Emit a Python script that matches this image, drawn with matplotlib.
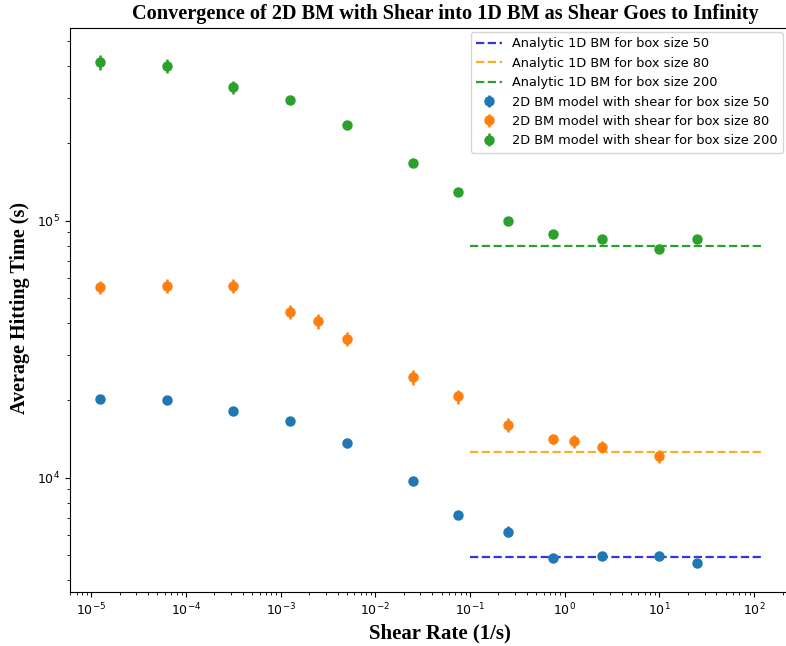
import matplotlib
matplotlib.use("Agg")
import matplotlib.pyplot as plt
import numpy as np

# Shear rates (1/s)
x_blue = [1.25e-5, 6.25e-5, 3.125e-4, 1.25e-3, 5e-3, 0.025, 0.075, 0.25, 0.75, 2.5, 10, 25]
y_blue = [2.02e4, 2.0e4, 1.82e4, 1.66e4, 1.36e4, 9.7e3, 7.17e3, 6.17e3, 4.86e3, 4.98e3, 4.98e3, 4.64e3]
e_blue = [500, 500, 450, 400, 350, 250, 200, 300, 120, 150, 150, 120]

x_orange = [1.25e-5, 6.25e-5, 3.125e-4, 1.25e-3, 2.5e-3, 5e-3, 0.025, 0.075, 0.25, 0.75, 1.25, 2.5, 10]
y_orange = [5.5e4, 5.57e4, 5.57e4, 4.42e4, 4.06e4, 3.48e4, 2.46e4, 2.07e4, 1.6e4, 1.41e4, 1.39e4, 1.32e4, 1.21e4]
e_orange = [3300, 3500, 3500, 2700, 2600, 2200, 1700, 1300, 1000, 600, 800, 700, 700]

x_green = [1.25e-5, 6.25e-5, 3.125e-4, 1.25e-3, 5e-3, 0.025, 0.075, 0.25, 0.75, 2.5, 10, 25]
y_green = [4.14e5, 4.01e5, 3.31e5, 2.95e5, 2.36e5, 1.67e5, 1.29e5, 1.0e5, 8.88e4, 8.48e4, 7.75e4, 8.5e4]
e_green = [2.9e4, 2.5e4, 2.0e4, 6e3, 4e3, 3e3, 2.5e3, 2e3, 1.5e3, 1.5e3, 1.5e3, 1.5e3]

analytic = {"50": 4.9e3, "80": 1.26e4, "200": 7.98e4}
line_x = [0.1, 123]
xticks = [1e-5, 1e-4, 1e-3, 1e-2, 1e-1, 1e0, 1e1, 1e2]

W, H = 786, 646
fig = plt.figure(figsize=(W / 100, H / 100), dpi=100)
left, right, bottom, top = 70, 810, 592, 28
ax = fig.add_axes([left / W, 1 - bottom / H, (right - left) / W, (bottom - top) / H])

ax.hlines(analytic["50"], line_x[0], line_x[1], colors="#3535e0", linestyles="--", lw=1.6,
          label="Analytic 1D BM for box size 50")
ax.hlines(analytic["80"], line_x[0], line_x[1], colors="#f5b025", linestyles="--", lw=1.6,
          label="Analytic 1D BM for box size 80")
ax.hlines(analytic["200"], line_x[0], line_x[1], colors="#2ca02c", linestyles="--", lw=1.6,
          label="Analytic 1D BM for box size 200")

ax.errorbar(x_blue, y_blue, yerr=e_blue, fmt="o", color="#1f77b4", ms=6.5, elinewidth=1.8,
            label="2D BM model with shear for box size 50")
ax.errorbar(x_orange, y_orange, yerr=e_orange, fmt="o", color="#ff7f0e", ms=6.5, elinewidth=1.8,
            label="2D BM model with shear for box size 80")
ax.errorbar(x_green, y_green, yerr=e_green, fmt="o", color="#2ca02c", ms=6.5, elinewidth=1.8,
            label="2D BM model with shear for box size 200")

ax.set_xscale("log")
ax.set_yscale("log")
dec = 94.67
ax.set_xlim(10 ** (-1 + (left - 470) / dec), 10 ** (-1 + (right - 470) / dec))
ax.set_xticks(xticks)
ydec = 257.0
ax.set_ylim(10 ** (4 - (bottom - 477.7) / ydec), 10 ** (4 + (477.7 - top) / ydec))
ax.tick_params(labelsize=9)

serif = ["Liberation Serif", "DejaVu Serif"]
fig.text(445 / W, 1 - 14 / H, "Convergence of 2D BM with Shear into 1D BM as Shear Goes to Infinity",
         ha="center", va="center", fontsize=14.6, fontweight="bold", family=serif)
fig.text(440 / W, 1 - 633 / H, "Shear Rate (1/s)", ha="center", va="center",
         fontsize=15, fontweight="bold", family=serif)
fig.text(20 / W, 1 - 308 / H, "Average Hitting Time (s)", ha="center", va="center",
         rotation=90, fontsize=14.5, fontweight="bold", family=serif)

ax.legend(loc="upper right", bbox_to_anchor=(783 / W, 1 - 32 / H),
          bbox_transform=fig.transFigure, fontsize=9.3, borderaxespad=0)

fig.savefig("out.png", dpi=100)
